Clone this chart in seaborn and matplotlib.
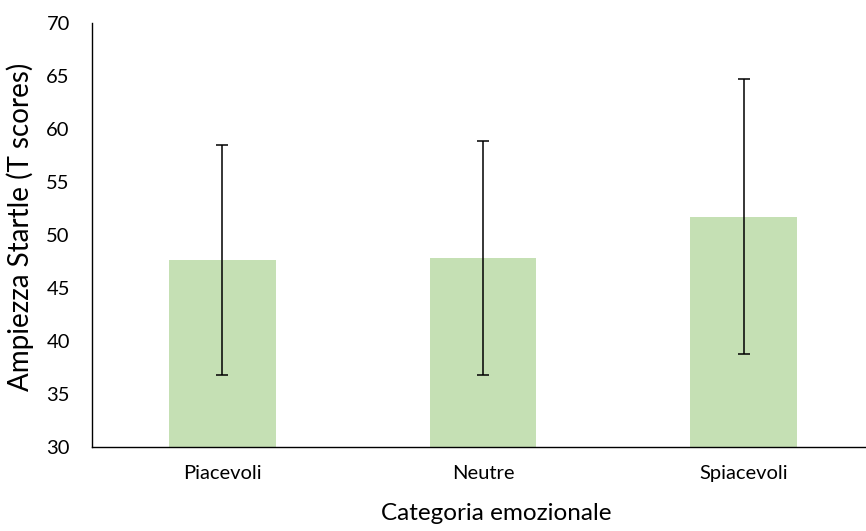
import matplotlib
matplotlib.use("Agg")
import matplotlib.pyplot as plt
import seaborn as sns
import pandas as pd

categories = ["Piacevoli", "Neutre", "Spiacevoli"]
means = [47.64, 47.83, 51.72]
errors = [10.84, 11.0, 12.95]
y_ticks = [30, 35, 40, 45, 50, 55, 60, 65, 70]

sns.set_theme(style="white")
plt.rcParams['font.family'] = ['Lato', 'DejaVu Sans']

df = pd.DataFrame({"cat": categories, "val": means})

fig = plt.figure(figsize=(8.66, 5.31), dpi=100)
ax = fig.add_axes([92/866, 1-447.3/531, (866-92)/866, (447.3-22.7)/531])

sns.barplot(data=df, x="cat", y="val", color="#C5E0B4", saturation=1,
            width=0.41, errorbar=None, ax=ax, linewidth=0)
ax.errorbar(range(len(categories)), means, yerr=errors, fmt="none",
            ecolor="black", elinewidth=1.1, capsize=4.3, capthick=1.1)

ax.set_ylim(30, 70)
ax.set_yticks(y_ticks)
ax.set_xlim(-0.5, 2.469)
ax.set_xticks(range(len(categories)))
ax.set_xticklabels(categories, fontsize=14.5, color="black")
ax.tick_params(axis="x", which="major", length=0, pad=13)
ax.set_xticks([-0.5, 0.5, 1.5], minor=True)
ax.tick_params(axis="x", which="minor", length=5, direction="out", width=1, color="black")
ax.tick_params(axis="y", length=5, direction="out", width=1, color="black",
               labelsize=14.5, pad=11, labelcolor="black")

for s in ["top", "right"]:
    ax.spines[s].set_visible(False)
for s in ["left", "bottom"]:
    ax.spines[s].set_color("black")
    ax.spines[s].set_linewidth(1)

ax.set_xlabel("Categoria emozionale", fontsize=17.5, color="black")
ax.set_ylabel("Ampiezza Startle (T scores)", fontsize=20, color="black")
ax.xaxis.set_label_coords(0.522, -0.131)
ax.yaxis.set_label_coords(-0.075, 0.518)

fig.savefig("out.png", dpi=100)
